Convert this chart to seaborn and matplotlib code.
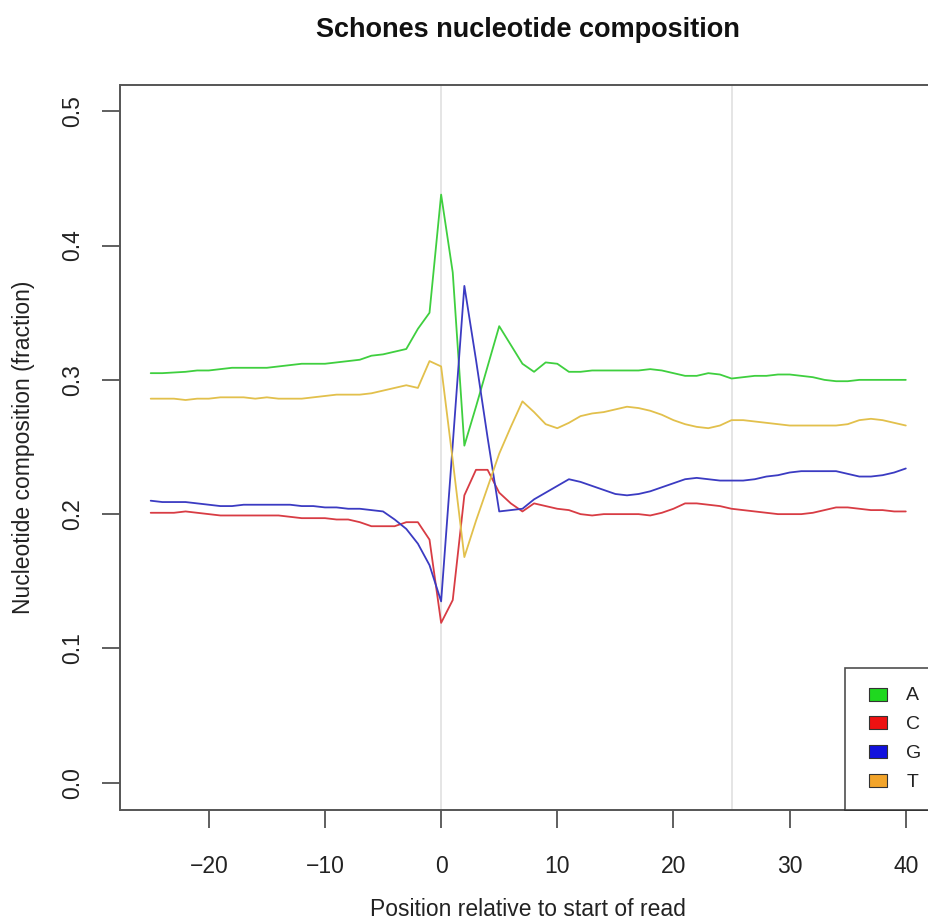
import numpy as np
import pandas as pd
import matplotlib
matplotlib.use("Agg")
import matplotlib.pyplot as plt
import seaborn as sns
from matplotlib.lines import Line2D
from matplotlib.path import Path

positions = list(range(-25, 41))

A = [0.305, 0.305, 0.3055, 0.306, 0.307, 0.307, 0.308, 0.309, 0.309, 0.309,
     0.309, 0.310, 0.311, 0.312, 0.312, 0.312, 0.313, 0.314, 0.315, 0.318,
     0.319, 0.321, 0.323, 0.338, 0.350, 0.438, 0.380, 0.251, 0.280, 0.310,
     0.340, 0.326, 0.312, 0.306, 0.313, 0.312, 0.306, 0.306, 0.307, 0.307,
     0.307, 0.307, 0.307, 0.308, 0.307, 0.305, 0.303, 0.303, 0.305, 0.304,
     0.301, 0.302, 0.303, 0.303, 0.304, 0.304, 0.303, 0.302, 0.300, 0.299,
     0.299, 0.300, 0.300, 0.300, 0.300, 0.300]

C = [0.201, 0.201, 0.201, 0.202, 0.201, 0.200, 0.199, 0.199, 0.199, 0.199,
     0.199, 0.199, 0.198, 0.197, 0.197, 0.197, 0.196, 0.196, 0.194, 0.191,
     0.191, 0.191, 0.194, 0.194, 0.181, 0.119, 0.136, 0.214, 0.233, 0.233,
     0.216, 0.208, 0.202, 0.208, 0.206, 0.204, 0.203, 0.200, 0.199, 0.200,
     0.200, 0.200, 0.200, 0.199, 0.201, 0.204, 0.208, 0.208, 0.207, 0.206,
     0.204, 0.203, 0.202, 0.201, 0.200, 0.200, 0.200, 0.201, 0.203, 0.205,
     0.205, 0.204, 0.203, 0.203, 0.202, 0.202]

G = [0.210, 0.209, 0.209, 0.209, 0.208, 0.207, 0.206, 0.206, 0.207, 0.207,
     0.207, 0.207, 0.207, 0.206, 0.206, 0.205, 0.205, 0.204, 0.204, 0.203,
     0.202, 0.196, 0.189, 0.178, 0.162, 0.135, 0.252, 0.370, 0.315, 0.257,
     0.202, 0.203, 0.204, 0.211, 0.216, 0.221, 0.226, 0.224, 0.221, 0.218,
     0.215, 0.214, 0.215, 0.217, 0.220, 0.223, 0.226, 0.227, 0.226, 0.225,
     0.225, 0.225, 0.226, 0.228, 0.229, 0.231, 0.232, 0.232, 0.232, 0.232,
     0.230, 0.228, 0.228, 0.229, 0.231, 0.234]

T = [0.286, 0.286, 0.286, 0.285, 0.286, 0.286, 0.287, 0.287, 0.287, 0.286,
     0.287, 0.286, 0.286, 0.286, 0.287, 0.288, 0.289, 0.289, 0.289, 0.290,
     0.292, 0.294, 0.296, 0.294, 0.314, 0.310, 0.240, 0.168, 0.195, 0.220,
     0.245, 0.265, 0.284, 0.276, 0.267, 0.264, 0.268, 0.273, 0.275, 0.276,
     0.278, 0.280, 0.279, 0.277, 0.274, 0.270, 0.267, 0.265, 0.264, 0.266,
     0.270, 0.270, 0.269, 0.268, 0.267, 0.266, 0.266, 0.266, 0.266, 0.266,
     0.267, 0.270, 0.271, 0.270, 0.268, 0.266]

nucleotides = ["A", "C", "G", "T"]
line_colors = ["#3fcf3f", "#d83c44", "#3b3bc2", "#e2c04c"]
legend_colors = ["#1fd81f", "#ee1111", "#1111dd", "#f2a42a"]
xticks = [-20, -10, 0, 10, 20, 30, 40]
yticks = [0.0, 0.1, 0.2, 0.3, 0.4, 0.5]
ref_lines = [0, 25]

df = pd.DataFrame({
    "pos": positions * 4,
    "frac": A + C + G + T,
    "nuc": sum([[n] * len(positions) for n in nucleotides], []),
})

sns.set_theme(style="white")
plt.rcParams["font.family"] = ["Liberation Sans", "DejaVu Sans"]

W, H = 929, 923
fig = plt.figure(figsize=(W / 100, H / 100), dpi=100)
left, right, top, bottom = 120.5, 936.0, 84.5, 809.5
ax = fig.add_axes([left / W, (H - bottom) / H, (right - left) / W, (bottom - top) / H])

for xv in ref_lines:
    ax.axvline(xv, color="#e3e3e3", lw=1.3, zorder=0)

sns.lineplot(data=df, x="pos", y="frac", hue="nuc", hue_order=nucleotides,
             palette=dict(zip(nucleotides, line_colors)), lw=1.3,
             legend=False, ax=ax, zorder=2)

ax.set_xlim(-27.6, 42.6)
ax.set_ylim(-0.02, 0.52)
ax.set_xticks(xticks)
ax.set_xticklabels([("\u2212" + str(-v)) if v < 0 else str(v) for v in xticks])
ax.set_yticks(yticks)
ax.set_yticklabels([f"{v:.1f}" for v in yticks], rotation=90, va="center")
ax.tick_params(axis="both", which="both", direction="out", length=13, width=1.2,
               color="#444444", labelsize=16.5, labelcolor="#222222",
               bottom=True, left=True)
ax.tick_params(axis="x", pad=20)
ax.tick_params(axis="y", pad=13)
for s in ax.spines.values():
    s.set_color("#555555")
    s.set_linewidth(1.4)

ax.set_xlabel("Position relative to start of read", fontsize=16.5, color="#222222", labelpad=14)
ax.set_ylabel("Nucleotide composition (fraction)", fontsize=16.5, color="#222222", labelpad=19)
fig.text((left + right) / 2 / W, 1 - 30 / H, "Schones nucleotide composition",
         ha="center", va="center", fontsize=19.5, fontweight="bold", color="#111111")

rect = Path([(-1, -0.72), (1, -0.72), (1, 0.72), (-1, 0.72), (-1, -0.72)],
            [Path.MOVETO, Path.LINETO, Path.LINETO, Path.LINETO, Path.CLOSEPOLY])
handles = [Line2D([], [], ls="none", marker=rect, markersize=13,
                  markerfacecolor=c, markeredgecolor="#333333", markeredgewidth=0.8)
           for c in legend_colors]
leg = ax.legend(handles, nucleotides, loc="lower left",
                bbox_to_anchor=((845 - left) / (right - left), 0.0, 1 - (845 - left) / (right - left), 0.2),
                mode="expand", borderaxespad=0, fontsize=14, frameon=True,
                fancybox=False, edgecolor="#222222", borderpad=0.95,
                labelspacing=0.58, handlelength=1.5, handletextpad=0.7)
leg.get_frame().set_linewidth(1.2)
for t in leg.get_texts():
    t.set_color("#222222")

fig.savefig("out.png", dpi=100, facecolor="white")
